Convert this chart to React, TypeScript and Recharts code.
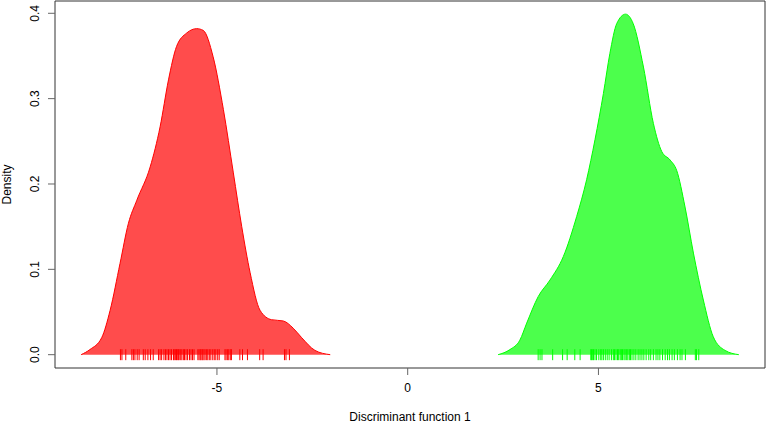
import React from "react";
import { ComposedChart, Area, Scatter, XAxis, YAxis, ReferenceArea, Label } from "recharts";

// density estimates
const redX = [-8.56, -8.33, -8.02, -7.8, -7.54, -7.32, -7.1, -6.75, -6.49, -6.27, -6.06, -5.79, -5.53, -5.36, -5.1, -4.83, -4.57, -4.35, -4.13, -3.87, -3.57, -3.26, -3.0, -2.78, -2.43, -2.03];
const redY = [0, 0.006, 0.02, 0.052, 0.107, 0.154, 0.181, 0.22, 0.267, 0.322, 0.361, 0.377, 0.382, 0.38, 0.349, 0.287, 0.213, 0.15, 0.096, 0.052, 0.041, 0.0395, 0.031, 0.02, 0.005, 0];
const greenX = [2.37, 2.68, 2.94, 3.12, 3.42, 3.73, 4.08, 4.43, 4.69, 4.91, 5.13, 5.3, 5.48, 5.71, 5.91, 6.18, 6.44, 6.66, 6.88, 7.05, 7.27, 7.49, 7.75, 8.01, 8.32, 8.68];
const greenY = [0, 0.006, 0.017, 0.037, 0.068, 0.0875, 0.115, 0.162, 0.205, 0.252, 0.306, 0.353, 0.388, 0.399, 0.388, 0.337, 0.271, 0.238, 0.228, 0.216, 0.173, 0.119, 0.064, 0.021, 0.005, 0];

// rug positions
const redRug = [-7.53, -7.49, -7.39, -7.23, -7.19, -7.15, -7.09, -7.04, -6.93, -6.88, -6.81, -6.74, -6.67, -6.53, -6.49, -6.45, -6.39, -6.35, -6.31, -6.27, -6.23, -6.19, -6.14, -6.12, -6.09, -6.06, -6.04, -6.01, -5.99, -5.95, -5.92, -5.88, -5.85, -5.81, -5.77, -5.72, -5.68, -5.64, -5.6, -5.5, -5.47, -5.44, -5.42, -5.39, -5.37, -5.34, -5.31, -5.27, -5.24, -5.2, -5.16, -5.11, -5.07, -5.03, -4.98, -4.94, -4.79, -4.76, -4.72, -4.69, -4.65, -4.62, -4.4, -4.33, -4.2, -3.88, -3.79, -3.23, -3.19, -3.1];
const greenRug = [3.42, 3.47, 3.52, 3.8, 4.06, 4.18, 4.38, 4.52, 4.8, 4.82, 4.85, 4.87, 4.91, 4.95, 5.01, 5.06, 5.09, 5.13, 5.18, 5.23, 5.28, 5.34, 5.39, 5.42, 5.46, 5.5, 5.53, 5.57, 5.6, 5.63, 5.67, 5.7, 5.74, 5.77, 5.81, 5.84, 5.88, 5.93, 5.98, 6.04, 6.09, 6.14, 6.19, 6.25, 6.32, 6.37, 6.44, 6.51, 6.56, 6.61, 6.68, 6.75, 6.81, 6.86, 6.93, 6.99, 7.07, 7.14, 7.19, 7.28, 7.54, 7.57, 7.63];

const xTicks = [-5, 0, 5];
const yTicks = [0, 0.1, 0.2, 0.3, 0.4];

const X_DOMAIN = [-9.245, 9.366];
const Y_DOMAIN = [-0.0156, 0.4144];

const densityData = [
  ...redX.map((x, i) => ({ x, red: redY[i] })),
  ...greenX.map((x, i) => ({ x, green: greenY[i] })),
];
const redRugData = redRug.map((x) => ({ x, y: 0 }));
const greenRugData = greenRug.map((x) => ({ x, y: 0 }));

const FONT = "'Liberation Sans', Arial, sans-serif";

const rugMark = (color: string) => (props: any) => (
  <line x1={props.cx} x2={props.cx} y1={props.cy - 5.5} y2={props.cy + 5.5} stroke={color} strokeWidth={1} />
);

const XTick = ({ x, y, payload }: any) => (
  <text x={x} y={y + 15} textAnchor="middle" fontSize={12} fontFamily={FONT} fill="#000">
    {payload.value}
  </text>
);

const YTick = ({ x, y, payload }: any) => (
  <text
    x={x - 7}
    y={y}
    transform={`rotate(-90, ${x - 7}, ${y})`}
    textAnchor="middle"
    fontSize={12}
    fontFamily={FONT}
    fill="#000"
  >
    {payload.value.toFixed(1)}
  </text>
);

export default function App() {
  return (
    <div style={{ position: "fixed", left: 0, top: 0, background: "#fff" }}>
      <ComposedChart width={767} height={423} data={densityData} margin={{ top: 1, right: 2, bottom: 0, left: 0 }}>
        <XAxis
          dataKey="x"
          type="number"
          domain={X_DOMAIN}
          allowDataOverflow
          ticks={xTicks}
          tick={<XTick />}
          tickSize={7}
          tickLine={{ stroke: "#666" }}
          axisLine={false}
          height={55}
        >
          <Label
            content={({ viewBox }: any) => (
              <text
                x={viewBox.x + viewBox.width / 2}
                y={421}
                textAnchor="middle"
                fontSize={12}
                fontFamily={FONT}
                fill="#000"
              >
                Discriminant function 1
              </text>
            )}
          />
        </XAxis>
        <YAxis
          type="number"
          domain={Y_DOMAIN}
          allowDataOverflow
          ticks={yTicks}
          tick={<YTick />}
          tickSize={7}
          tickLine={{ stroke: "#666" }}
          axisLine={false}
          width={55}
        >
          <Label
            content={({ viewBox }: any) => {
              const cy = viewBox.y + viewBox.height / 2;
              return (
                <text
                  x={11}
                  y={cy}
                  transform={`rotate(-90, 11, ${cy})`}
                  textAnchor="middle"
                  fontSize={12}
                  fontFamily={FONT}
                  fill="#000"
                >
                  Density
                </text>
              );
            }}
          />
        </YAxis>
        <Area
          dataKey="red"
          type="monotone"
          stroke="#ff0000"
          strokeWidth={1}
          fill="#ff0000"
          fillOpacity={0.7}
          baseValue={0}
          dot={false}
          activeDot={false}
          isAnimationActive={false}
        />
        <Area
          dataKey="green"
          type="monotone"
          stroke="#00ff00"
          strokeWidth={1}
          fill="#00ff00"
          fillOpacity={0.7}
          baseValue={0}
          dot={false}
          activeDot={false}
          isAnimationActive={false}
        />
        <Scatter data={redRugData} dataKey="y" shape={rugMark("#ff0000")} isAnimationActive={false} />
        <Scatter data={greenRugData} dataKey="y" shape={rugMark("#00ff00")} isAnimationActive={false} />
        <ReferenceArea
          x1={X_DOMAIN[0]}
          x2={X_DOMAIN[1]}
          y1={Y_DOMAIN[0]}
          y2={Y_DOMAIN[1]}
          fill="none"
          stroke="#333"
          strokeWidth={1}
          ifOverflow="visible"
        />
      </ComposedChart>
    </div>
  );
}
